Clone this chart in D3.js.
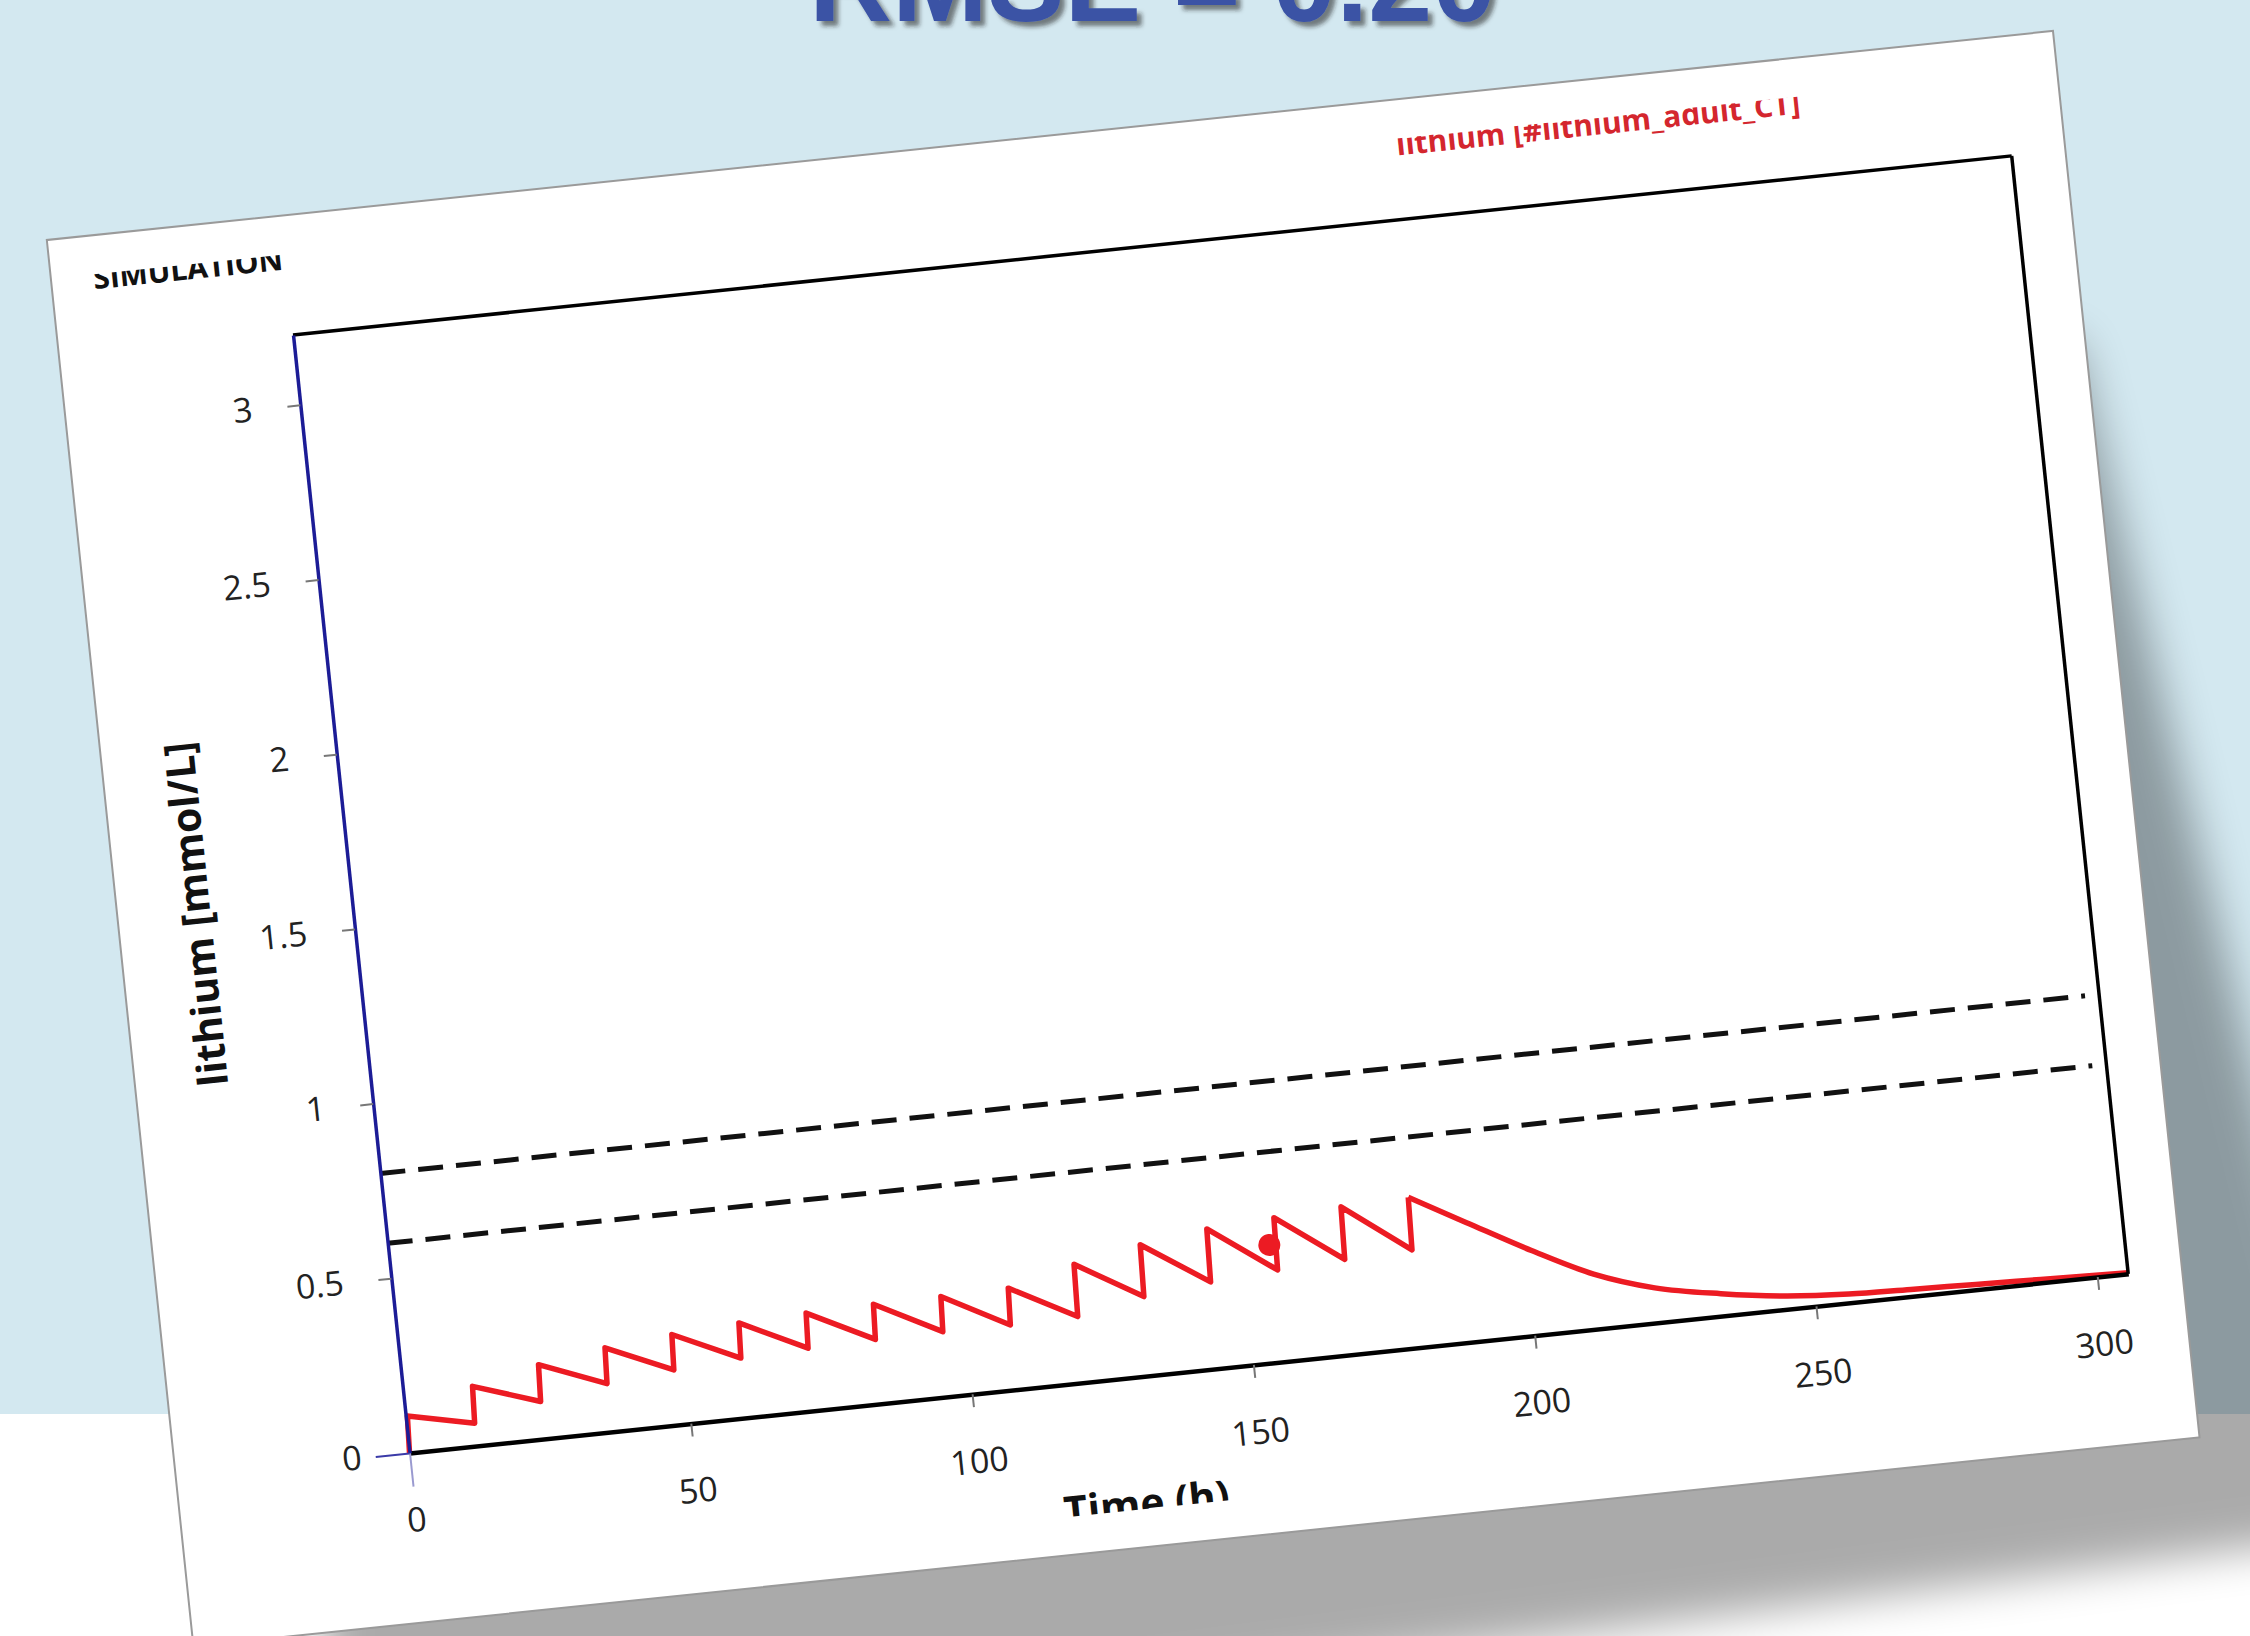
<!DOCTYPE html>
<html>
<head>
<meta charset="utf-8">
<script src="https://cdn.jsdelivr.net/npm/d3@7"></script>
<style>
  body { margin: 0; background: #fff; overflow: hidden; }
  svg text { font-family: 'Open Sans', sans-serif; }
</style>
</head>
<body>
<div id="chart"></div>
<script>
const width = 2250;
const height = 1636;

// axes
const xTicks = [0, 50, 100, 150, 200, 250, 300];
const yTicks = [0, 0.5, 1, 1.5, 2, 2.5, 3];
const xMax = 305.5;
const yMax = 3.2;

// simulated lithium level (mmol/L)
const doseTimes = [0, 12, 24, 36, 48, 60, 72, 84, 96, 108, 120, 132, 144, 156, 168, 180];
const peakLevels = [0.105, 0.170, 0.212, 0.240, 0.258, 0.271, 0.279, 0.284, 0.286, 0.290, 0.338, 0.374, 0.399, 0.411, 0.422, 0.429];
const troughLevels = [0.065, 0.107, 0.138, 0.157, 0.171, 0.179, 0.184, 0.186, 0.185, 0.189, 0.226, 0.248, 0.262, 0.272, 0.279];
const washoutTimes = [190, 201, 211.5, 222, 233.5, 244.5, 256, 267, 278.5, 290, 305.5];
const washoutLevels = [0.341, 0.242, 0.157, 0.100, 0.064, 0.039, 0.025, 0.020, 0.015, 0.010, 0.003];

// measured level
const observedTimes = [155];
const observedLevels = [0.335];

// therapeutic range
const rangeLevels = [0.6, 0.8];
const rangeEnd = 303;

const pw = 1728, ph = 1124;

const svg = d3.select('#chart').append('svg')
  .attr('width', width)
  .attr('height', height);

const defs = svg.append('defs');
defs.append('filter').attr('id', 'blur')
  .attr('x', '-20%').attr('y', '-20%').attr('width', '140%').attr('height', '140%')
  .append('feGaussianBlur').attr('stdDeviation', 22);
defs.append('filter').attr('id', 'titleShadow')
  .append('feDropShadow')
  .attr('dx', 5).attr('dy', 5).attr('stdDeviation', 2)
  .attr('flood-color', '#222').attr('flood-opacity', 0.55);
defs.append('clipPath').attr('id', 'crop')
  .append('rect')
  .attr('x', -235).attr('y', -81)
  .attr('width', 2017).attr('height', 1337);

// backdrop
svg.append('rect').attr('width', width).attr('height', 1414).attr('fill', '#d3e8f0');
svg.append('rect').attr('y', 1414).attr('width', width).attr('height', height - 1414).attr('fill', '#fff');

// paper shadow
svg.append('path')
  .attr('d', 'M2075,340 L2330,1380 L2320,1540 L700,1745 L330,1780 L260,400 Z')
  .attr('fill', '#000')
  .attr('opacity', 0.33)
  .attr('filter', 'url(#blur)');

// slide title (cut by the top edge)
svg.append('text')
  .attr('x', 809)
  .attr('y', 21)
  .attr('fill', '#3a53a5')
  .attr('filter', 'url(#titleShadow)')
  .style('font-family', "'Liberation Sans', Arial, sans-serif")
  .style('font-weight', 'bold')
  .style('font-size', '115px')
  .text('RMSE = 0.20');

// rotated sheet
const page = svg.append('g').attr('transform', 'translate(293,335) rotate(-5.95)');

page.append('rect')
  .attr('x', -235).attr('y', -120)
  .attr('width', 2017).attr('height', 1414)
  .attr('fill', '#fff')
  .attr('stroke', '#9a9a9a')
  .attr('stroke-width', 2);

const g = page.append('g').attr('clip-path', 'url(#crop)');

const x = d3.scaleLinear().domain([0, xMax]).range([0, pw]);
const y = d3.scaleLinear().domain([0, yMax]).range([ph, 0]);

// headers
g.append('text')
  .attr('x', -193).attr('y', -66)
  .style('font-weight', 'bold')
  .style('font-size', '30px')
  .attr('fill', '#111')
  .text('SIMULATION');

g.append('text')
  .attr('x', 1320).attr('y', -64)
  .attr('text-anchor', 'middle')
  .style('font-weight', 'bold')
  .style('font-size', '30px')
  .attr('fill', '#d4262e')
  .text('lithium [#lithium_adult_CT]');

// therapeutic range
g.selectAll('.range')
  .data(rangeLevels)
  .enter()
  .append('line')
  .attr('class', 'range')
  .attr('x1', x(0)).attr('x2', x(rangeEnd))
  .attr('y1', d => y(d)).attr('y2', d => y(d))
  .attr('stroke', '#111')
  .attr('stroke-width', 5)
  .attr('stroke-dasharray', '25,13');

// build the level curve: dosing part, then washout
const dosing = [[0, 0]];
doseTimes.forEach((t, i) => {
  dosing.push([t + 0.3, peakLevels[i]]);
  if (i < troughLevels.length) dosing.push([doseTimes[i + 1], troughLevels[i]]);
});
const washout = [dosing[dosing.length - 1]];
washoutTimes.forEach((t, i) => washout.push([t, washoutLevels[i]]));

const line = d3.line().x(d => x(d[0])).y(d => y(d[1]));
const smooth = d3.line().x(d => x(d[0])).y(d => y(d[1])).curve(d3.curveMonotoneX);

g.append('path')
  .datum(dosing)
  .attr('d', line)
  .attr('fill', 'none')
  .attr('stroke', '#ec1b23')
  .attr('stroke-width', 5.5)
  .attr('stroke-linejoin', 'round');

g.append('path')
  .datum(washout)
  .attr('d', smooth)
  .attr('fill', 'none')
  .attr('stroke', '#ec1b23')
  .attr('stroke-width', 5.5)
  .attr('stroke-linejoin', 'round');

g.selectAll('.obs')
  .data(observedTimes)
  .enter()
  .append('circle')
  .attr('class', 'obs')
  .attr('cx', d => x(d))
  .attr('cy', (d, i) => y(observedLevels[i]))
  .attr('r', 11)
  .attr('fill', '#ec1b23');

// frame
g.append('line').attr('x1', 0).attr('y1', 0).attr('x2', pw).attr('y2', 0)
  .attr('stroke', '#000').attr('stroke-width', 3.5);
g.append('line').attr('x1', pw).attr('y1', 0).attr('x2', pw).attr('y2', ph)
  .attr('stroke', '#000').attr('stroke-width', 3.5);

// x axis
const xAxis = g.append('g').attr('transform', 'translate(0,' + ph + ')')
  .call(d3.axisBottom(x).tickValues(xTicks).tickSize(13).tickSizeOuter(0).tickPadding(42));
xAxis.select('.domain').attr('stroke', '#000').attr('stroke-width', 4.5);
xAxis.selectAll('.tick line').attr('stroke-width', 2)
  .attr('y2', d => d === 0 ? 34 : 13)
  .attr('stroke', d => d === 0 ? '#9a9ad0' : '#777');
xAxis.selectAll('.tick text')
  .style('font-size', '34px')
  .attr('fill', '#222');

// y axis
const yAxis = g.append('g')
  .call(d3.axisLeft(y).tickValues(yTicks).tickSize(13).tickSizeOuter(0).tickPadding(35)
    .tickFormat(d3.format('')));
yAxis.select('.domain').attr('stroke', '#1c1c96').attr('stroke-width', 3.5);
yAxis.selectAll('.tick line').attr('stroke-width', 2)
  .attr('x2', d => d === 0 ? -34 : -13)
  .attr('stroke', d => d === 0 ? '#3a3aa8' : '#777');
yAxis.selectAll('.tick text')
  .style('font-size', '34px')
  .attr('fill', '#222');

// axis titles
g.append('text')
  .attr('transform', 'translate(-158,566) rotate(-90)')
  .attr('text-anchor', 'middle')
  .attr('dominant-baseline', 'central')
  .style('font-weight', 'bold')
  .style('font-size', '41px')
  .attr('fill', '#111')
  .text('lithium [mmol/L]');

g.append('text')
  .attr('x', 728).attr('y', 1265)
  .attr('text-anchor', 'middle')
  .style('font-weight', 'bold')
  .style('font-size', '41px')
  .attr('fill', '#111')
  .text('Time (h)');
</script>
</body>
</html>
